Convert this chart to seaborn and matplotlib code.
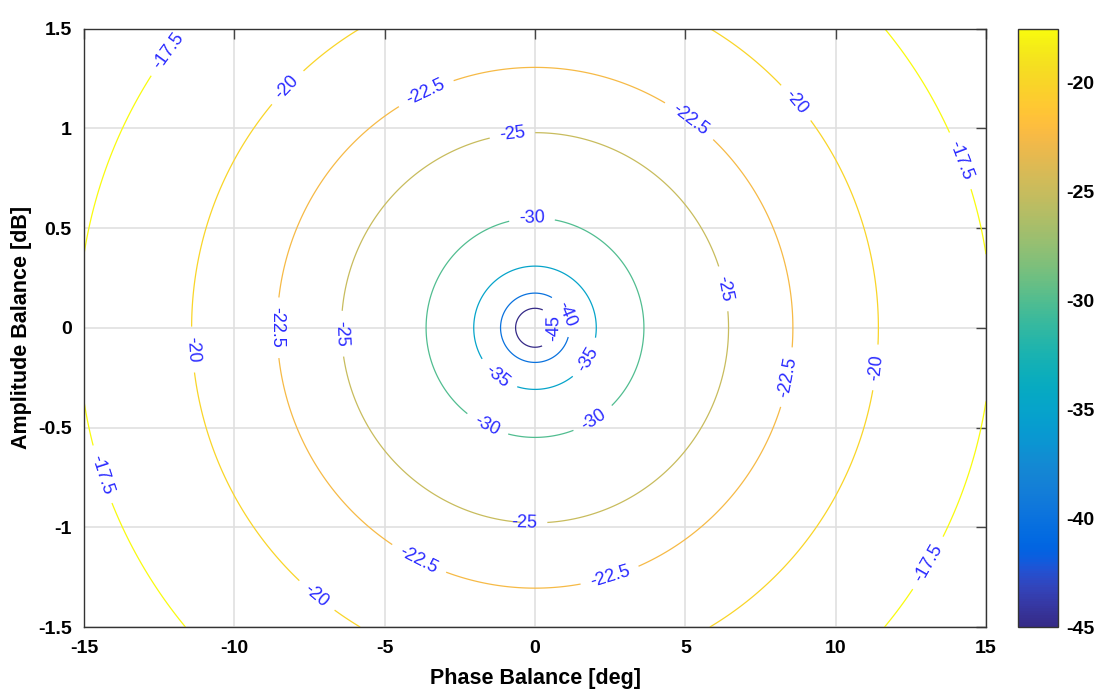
"""
plot.py — image-rejection contour map over phase / amplitude imbalance.
"""

import numpy as np
import matplotlib
matplotlib.use("Agg")
import matplotlib.pyplot as plt
from matplotlib.colors import LinearSegmentedColormap, Normalize
import seaborn as sns

# ── data ──────────────────────────────────────────────────────────────────────
phase_deg = np.linspace(-15, 15, 401)          # x axis [deg]
amp_db = np.linspace(-1.5, 1.5, 401)           # y axis [dB]
levels = [-45, -40, -35, -30, -25, -22.5, -20, -17.5]
x_ticks = [-15, -10, -5, 0, 5, 10, 15]
y_ticks = [-1.5, -1, -0.5, 0, 0.5, 1, 1.5]
cbar_ticks = [-45, -40, -35, -30, -25, -20]
clim = (-45, -17.5)

# where the inline labels sit (data coords)
label_spots = [
    (-12.3, 1.40), (-8.2, 1.2), (-3.7, 1.2), (-0.75, 0.965), (-0.1, 0.54),
    (0.95, 0.06), (0.33, 0.0), (1.67, -0.15), (-1.25, -0.24), (-1.6, -0.49),
    (1.95, -0.46), (-0.35, -0.97), (-3.9, -1.17), (2.5, -1.25), (-7.3, -1.35),
    (-14.5, -0.74), (-11.45, -0.11), (-8.6, 0.0), (-6.45, -0.03), (6.1, 0.19),
    (8.45, -0.25), (11.4, -0.2), (14.2, 0.84), (13.2, -1.19), (8.7, 1.13),
    (5.2, 1.05),
]

# image rejection ratio [dB] for gain error g and phase error phi
PH, AM = np.meshgrid(phase_deg, amp_db)
g = 10 ** (AM / 20)
phi = np.deg2rad(PH)
irr = 10 * np.log10((1 - 2 * g * np.cos(phi) + g**2) / (1 + 2 * g * np.cos(phi) + g**2))

# parula colormap (MATLAB default), 64 entries
_parula = [
    (0.2081, 0.1663, 0.5292), (0.2116, 0.1898, 0.5777), (0.2123, 0.2138, 0.6270),
    (0.2081, 0.2386, 0.6771), (0.1959, 0.2645, 0.7279), (0.1707, 0.2919, 0.7792),
    (0.1253, 0.3242, 0.8303), (0.0591, 0.3598, 0.8683), (0.0117, 0.3875, 0.8820),
    (0.0060, 0.4086, 0.8828), (0.0165, 0.4266, 0.8786), (0.0329, 0.4430, 0.8720),
    (0.0498, 0.4586, 0.8641), (0.0629, 0.4737, 0.8554), (0.0723, 0.4887, 0.8467),
    (0.0779, 0.5040, 0.8384), (0.0793, 0.5200, 0.8312), (0.0749, 0.5375, 0.8263),
    (0.0641, 0.5570, 0.8240), (0.0488, 0.5772, 0.8228), (0.0343, 0.5966, 0.8199),
    (0.0265, 0.6137, 0.8135), (0.0239, 0.6287, 0.8038), (0.0231, 0.6418, 0.7913),
    (0.0228, 0.6535, 0.7768), (0.0267, 0.6642, 0.7607), (0.0384, 0.6743, 0.7436),
    (0.0590, 0.6838, 0.7254), (0.0843, 0.6928, 0.7062), (0.1133, 0.7015, 0.6859),
    (0.1453, 0.7098, 0.6646), (0.1801, 0.7177, 0.6424), (0.2178, 0.7250, 0.6193),
    (0.2586, 0.7317, 0.5954), (0.3022, 0.7376, 0.5712), (0.3482, 0.7424, 0.5473),
    (0.3953, 0.7459, 0.5244), (0.4420, 0.7481, 0.5033), (0.4871, 0.7491, 0.4840),
    (0.5300, 0.7491, 0.4661), (0.5709, 0.7485, 0.4494), (0.6099, 0.7473, 0.4337),
    (0.6473, 0.7456, 0.4188), (0.6834, 0.7435, 0.4044), (0.7184, 0.7411, 0.3905),
    (0.7525, 0.7384, 0.3768), (0.7858, 0.7356, 0.3633), (0.8185, 0.7327, 0.3498),
    (0.8507, 0.7299, 0.3360), (0.8824, 0.7274, 0.3217), (0.9139, 0.7258, 0.3063),
    (0.9450, 0.7261, 0.2886), (0.9739, 0.7314, 0.2666), (0.9938, 0.7455, 0.2403),
    (0.9990, 0.7653, 0.2164), (0.9955, 0.7861, 0.1967), (0.9880, 0.8066, 0.1794),
    (0.9789, 0.8271, 0.1633), (0.9697, 0.8481, 0.1475), (0.9626, 0.8705, 0.1309),
    (0.9589, 0.8949, 0.1132), (0.9598, 0.9218, 0.0948), (0.9661, 0.9514, 0.0755),
    (0.9763, 0.9831, 0.0538),
]
parula = LinearSegmentedColormap.from_list("parula", _parula)

# ── style ─────────────────────────────────────────────────────────────────────
sns.set_theme(style="white")
plt.rcParams["font.family"] = ["Liberation Sans", "DejaVu Sans"]
plt.rcParams["axes.unicode_minus"] = False
plt.rcParams["text.color"] = "black"
plt.rcParams["axes.labelcolor"] = "black"
plt.rcParams["xtick.color"] = "black"
plt.rcParams["ytick.color"] = "black"

TICK_FONT = dict(family=["Liberation Sans Narrow", "Liberation Sans"], weight="bold", size=14)

fig = plt.figure(figsize=(10.97, 6.92), dpi=100)
ax = fig.add_axes([0.0766, 0.0939, 0.8222, 0.8649])
cax = fig.add_axes([0.928, 0.0939, 0.0365, 0.8649])

norm = Normalize(*clim)
cs = ax.contour(PH, AM, irr, levels=levels, cmap=parula, norm=norm, linewidths=0.9)
ax.clabel(cs, fmt=lambda v: f"{v:g}", colors="#2a2aff", fontsize=13,
          manual=label_spots, inline=True, inline_spacing=10)

ax.set_xlim(-15, 15)
ax.set_ylim(-1.5, 1.5)
ax.set_xticks(x_ticks)
ax.set_yticks(y_ticks)
ax.set_xticklabels([f"{t:g}" for t in x_ticks], fontdict=TICK_FONT)
ax.set_yticklabels([f"{t:g}" for t in y_ticks], fontdict=TICK_FONT)
ax.grid(True, color="#e0e0e0", linewidth=1.2)
ax.set_axisbelow(True)
ax.tick_params(direction="in", length=7, width=1, color="#444444",
               top=True, right=True, pad=9)
for sp in ax.spines.values():
    sp.set_color("#333333")
    sp.set_linewidth(1.0)
ax.set_xlabel("Phase Balance [deg]", fontsize=15.5, fontweight="bold", labelpad=8)
ax.set_ylabel("Amplitude Balance [dB]", fontsize=15.5, fontweight="bold", labelpad=4)

sm = plt.cm.ScalarMappable(norm=norm, cmap=parula)
cb = fig.colorbar(sm, cax=cax, ticks=cbar_ticks)
cb.ax.set_yticklabels([f"{t:g}" for t in cbar_ticks], fontdict=TICK_FONT)
cb.ax.tick_params(direction="in", length=6, color="#444444", pad=6)
cb.outline.set_edgecolor("#333333")
cb.outline.set_linewidth(1.0)

fig.savefig("out.png", dpi=100)
plt.close(fig)
